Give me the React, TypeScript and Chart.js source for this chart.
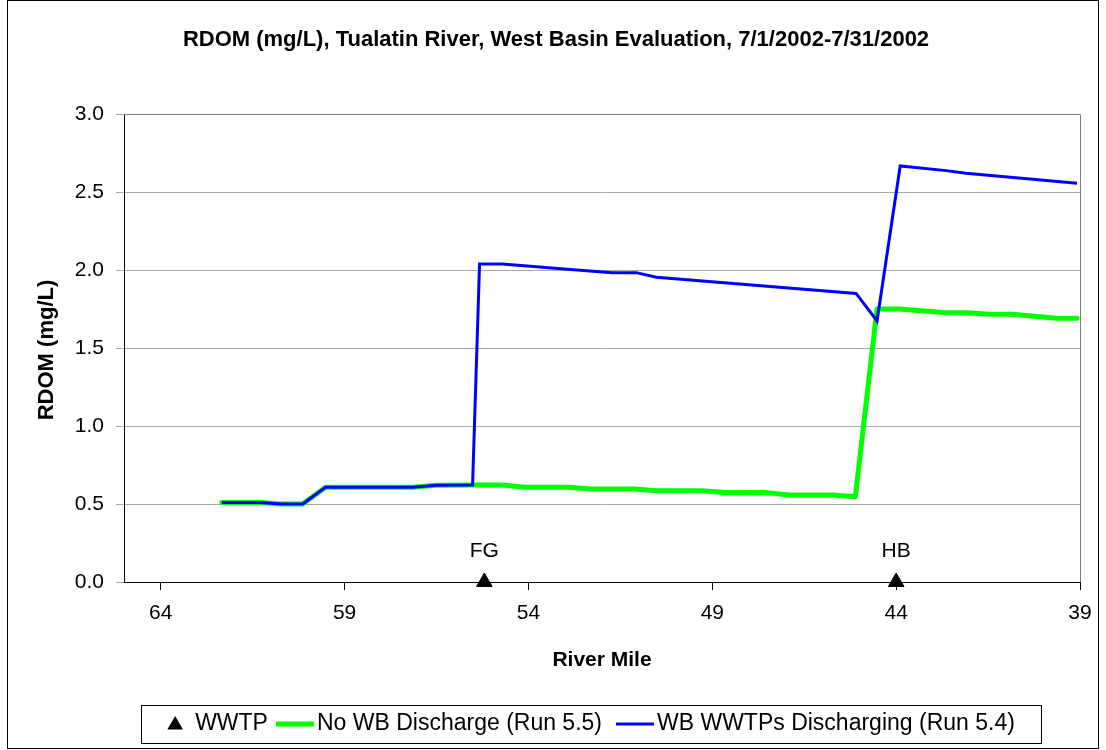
import React, { useEffect, useRef } from "react";
import { Chart, registerables } from "chart.js";

Chart.register(...registerables);

const TITLE = "RDOM (mg/L), Tualatin River, West Basin Evaluation, 7/1/2002-7/31/2002";
const X_TITLE = "River Mile";
const Y_TITLE = "RDOM (mg/L)";

const xTicks = [64, 59, 54, 49, 44, 39];
const yTicks = [0, 0.5, 1.0, 1.5, 2.0, 2.5, 3.0];

const wwtpLabel = "WWTP";
const wwtpMiles = [55.2, 44.0];
const wwtpValues = [0, 0];
const wwtpNames = ["FG", "HB"];

const noWbLabel = "No WB Discharge (Run 5.5)";
const noWbMiles = [62.34, 61.31, 60.71, 60.14, 59.52, 57.15, 56.5, 55.52, 54.71, 54.11, 52.94, 52.29, 51.12, 50.52, 49.27, 48.67, 47.53, 46.91, 45.74, 45.11, 44.52, 43.92, 42.64, 42.1, 41.47, 40.85, 39.65, 39.08];
const noWbValues = [0.51, 0.51, 0.5, 0.5, 0.607, 0.607, 0.62, 0.622, 0.622, 0.607, 0.607, 0.596, 0.596, 0.585, 0.585, 0.573, 0.573, 0.558, 0.558, 0.547, 1.75, 1.75, 1.726, 1.726, 1.716, 1.716, 1.69, 1.69];

const wbLabel = "WB WWTPs Discharging (Run 5.4)";
const wbMiles = [62.34, 61.31, 60.71, 60.14, 59.52, 57.15, 56.5, 55.52, 55.33, 54.71, 52.94, 51.72, 51.07, 50.52, 45.09, 44.52, 43.89, 42.64, 42.1, 39.08];
const wbValues = [0.51, 0.51, 0.5, 0.5, 0.607, 0.607, 0.62, 0.622, 2.038, 2.038, 2.005, 1.983, 1.983, 1.953, 1.85, 1.673, 2.667, 2.637, 2.62, 2.556];

const FONT = "'Liberation Sans', Arial, sans-serif";

const toPoints = (xs: number[], ys: number[]) => xs.map((x, i) => ({ x, y: ys[i] }));

function drawTriangle(ctx: CanvasRenderingContext2D, cx: number, cy: number, r: number) {
  ctx.beginPath();
  ctx.moveTo(cx, cy - r);
  ctx.lineTo(cx + r * 0.866, cy + r / 2);
  ctx.lineTo(cx - r * 0.866, cy + r / 2);
  ctx.closePath();
  ctx.fill();
}

const decorPlugin = {
  id: "decor",
  beforeDraw(chart: any) {
    const { ctx, width, height } = chart;
    ctx.save();
    ctx.fillStyle = "#ffffff";
    ctx.fillRect(0, 0, width, height);
    ctx.restore();
  },
  beforeDatasetsDraw(chart: any) {
    const { ctx, chartArea: ca } = chart;
    ctx.save();
    ctx.strokeStyle = "#808080";
    ctx.lineWidth = 1;
    ctx.beginPath();
    ctx.moveTo(ca.left, ca.top + 0.5);
    ctx.lineTo(ca.right + 0.5, ca.top + 0.5);
    ctx.lineTo(ca.right + 0.5, ca.bottom);
    ctx.stroke();
    ctx.restore();
  },
  afterDraw(chart: any) {
    const { ctx, chartArea: ca, scales } = chart;
    const xs = scales.x;
    const ys = scales.y;
    ctx.save();
    // outer border
    ctx.strokeStyle = "#000000";
    ctx.lineWidth = 1;
    ctx.strokeRect(7.5, 0.5, 1091, 748);

    ctx.fillStyle = "#000000";
    // title
    ctx.font = `bold 22px ${FONT}`;
    ctx.textAlign = "center";
    ctx.textBaseline = "middle";
    ctx.fillText(TITLE, 556, 40);
    // x title
    ctx.font = `bold 21px ${FONT}`;
    ctx.fillText(X_TITLE, (ca.left + ca.right) / 2, 660);
    // y title
    ctx.font = `bold 22px ${FONT}`;
    ctx.save();
    ctx.translate(47, (ca.top + ca.bottom) / 2 + 2);
    ctx.rotate(-Math.PI / 2);
    ctx.fillText(Y_TITLE, 0, 0);
    ctx.restore();

    // WWTP names
    ctx.font = `21px ${FONT}`;
    wwtpNames.forEach((n, i) => {
      const px = xs.getPixelForValue(wwtpMiles[i]);
      const py = ys.getPixelForValue(wwtpValues[i]);
      ctx.fillText(n, px, py - 31);
    });

    // legend
    const boxL = 141, boxR = 1041, boxT = 705, boxB = 743;
    const cy = (boxT + boxB) / 2;
    ctx.strokeStyle = "#000000";
    ctx.strokeRect(boxL + 0.5, boxT + 0.5, boxR - boxL, boxB - boxT);
    ctx.font = `23px ${FONT}`;
    ctx.textAlign = "left";
    const ds = chart.data.datasets;
    const lineLen = 38;
    const w0 = ctx.measureText(ds[0].label).width;
    const w1 = ctx.measureText(ds[1].label).width;
    const w2 = ctx.measureText(ds[2].label).width;
    const total = 16 + 12 + w0 + 8 + lineLen + 3 + w1 + 14 + lineLen + 3 + w2;
    let x = (boxL + boxR) / 2 - total / 2;
    ctx.fillStyle = "#000000";
    drawTriangle(ctx, x + 8, cy + 1, 9);
    x += 16 + 12;
    ctx.fillText(ds[0].label, x, cy);
    x += w0 + 8;
    [1, 2].forEach((k) => {
      ctx.strokeStyle = ds[k].borderColor;
      ctx.lineWidth = ds[k].borderWidth;
      ctx.beginPath();
      ctx.moveTo(x, cy);
      ctx.lineTo(x + lineLen, cy);
      ctx.stroke();
      x += lineLen + 3;
      ctx.fillStyle = "#000000";
      ctx.fillText(ds[k].label, x, cy);
      x += (k === 1 ? w1 : w2) + 14;
    });
    ctx.restore();
  },
};

export default function App() {
  const canvasRef = useRef<HTMLCanvasElement | null>(null);

  useEffect(() => {
    document.body.style.margin = "0";
    const canvas = canvasRef.current;
    if (!canvas) return;
    const chart = new Chart(canvas, {
      type: "scatter",
      data: {
        datasets: [
          {
            label: wwtpLabel,
            data: toPoints(wwtpMiles, wwtpValues),
            pointStyle: "triangle",
            pointRadius: 9,
            backgroundColor: "#000000",
            borderColor: "#000000",
            showLine: false,
            clip: false,
            order: 0,
          } as any,
          {
            label: noWbLabel,
            data: toPoints(noWbMiles, noWbValues),
            showLine: true,
            borderColor: "#00FF00",
            backgroundColor: "#00FF00",
            borderWidth: 5,
            pointRadius: 0,
            borderJoinStyle: "round",
            borderCapStyle: "round",
            tension: 0,
            order: 2,
          } as any,
          {
            label: wbLabel,
            data: toPoints(wbMiles, wbValues),
            showLine: true,
            borderColor: "#0000FF",
            backgroundColor: "#0000FF",
            borderWidth: 3,
            pointRadius: 0,
            borderJoinStyle: "miter",
            tension: 0,
            order: 1,
          } as any,
        ],
      },
      options: {
        responsive: false,
        animation: false,
        devicePixelRatio: 1,
        layout: { padding: { left: 0, right: 26, top: 114, bottom: 0 } },
        plugins: {
          legend: { display: false },
          title: { display: false },
          tooltip: { enabled: false },
        },
        scales: {
          x: {
            type: "linear",
            reverse: true,
            min: 39,
            max: 65,
            afterBuildTicks: (s: any) => {
              s.ticks = xTicks.map((v) => ({ value: v }));
            },
            afterFit: (s: any) => {
              s.height = 168;
            },
            grid: { drawOnChartArea: false, drawTicks: true, tickLength: 8, color: "#000000" },
            border: { color: "#000000", width: 1 },
            ticks: {
              color: "#000000",
              font: { family: FONT, size: 21 },
              padding: 11,
              maxRotation: 0,
              autoSkip: false,
              callback: (v: any) => String(v),
            },
          },
          y: {
            type: "linear",
            min: 0,
            max: 3,
            afterBuildTicks: (s: any) => {
              s.ticks = yTicks.map((v) => ({ value: v }));
            },
            afterFit: (s: any) => {
              s.width = 124;
            },
            grid: { color: "#A8A8A8", tickLength: 8 },
            border: { color: "#000000", width: 1 },
            ticks: {
              color: "#000000",
              font: { family: FONT, size: 21 },
              padding: 12,
              callback: (v: any) => Number(v).toFixed(1),
            },
          },
        },
      } as any,
      plugins: [decorPlugin],
    });
    return () => chart.destroy();
  }, []);

  return (
    <div style={{ width: 1106, height: 750 }}>
      <canvas ref={canvasRef} width={1106} height={750} style={{ display: "block" }} />
    </div>
  );
}
